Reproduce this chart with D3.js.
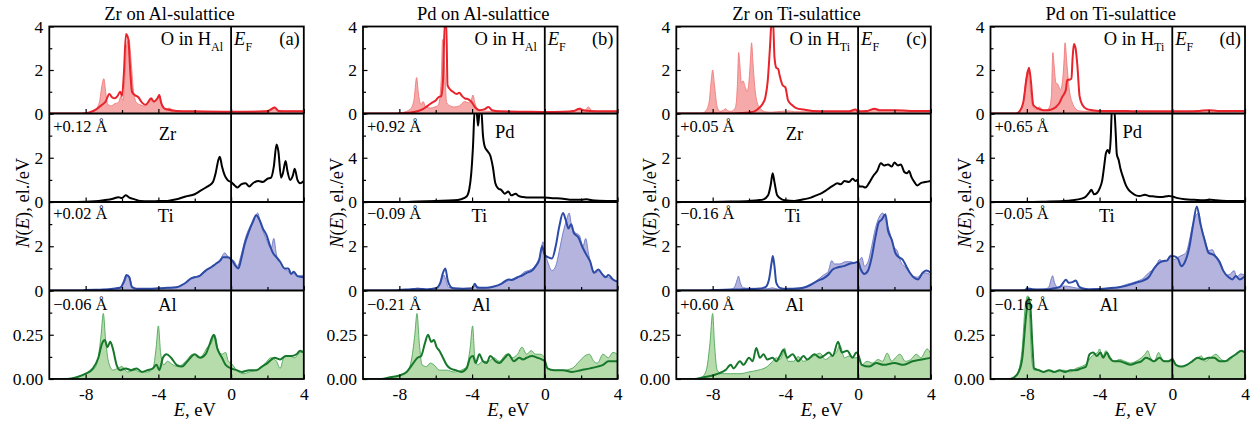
<!DOCTYPE html>
<html><head><meta charset="utf-8">
<script src="https://cdn.jsdelivr.net/npm/d3@7"></script>
<style>body{margin:0;background:#fff}svg{display:block}text{font-family:"Liberation Serif","Times New Roman",serif;fill:#000}</style>
</head><body><svg id="c" width="1257" height="424"></svg>
<script>
// ---------------- DATA (energy eV, DOS el./eV) ----------------
const panelTitles = ["Zr on Al-sulattice","Pd on Al-sulattice","Zr on Ti-sulattice","Pd on Ti-sulattice"];
const panelLetters = ["(a)","(b)","(c)","(d)"];
const oSites = ["Al","Al","Ti","Ti"];
const dopants = ["Zr","Pd","Zr","Pd"];
const shiftsDop = ["+0.12 Å","+0.92 Å","+0.05 Å","+0.65 Å"];
const shiftsTi  = ["+0.02 Å","−0.09 Å","−0.16 Å","−0.05 Å"];
const shiftsAl  = ["−0.06 Å","−0.21 Å","+0.60 Å","−0.16 Å"];
const xTickLabels = [-8,-4,0,4];
const xTicksAll = [-8,-6,-4,-2,0,2,4];
const yLabelsO = [0,2,4], yLabelsZr = [0,2], yLabelsPd = [0,4], yLabelsTi = [0,2], yLabelsAl = [0,0.25];

// Panel (a)
const aO_thin = [[-10,0],[-8.2,0],[-7.8,0.05],[-7.5,0.15],[-7.25,0.5],[-7.1,1.3],[-7.0,1.6],[-6.9,1.0],[-6.8,0.45],[-6.6,0.35],[-6.4,0.45],[-6.2,0.5],[-6.05,0.8],[-5.95,0.6],[-5.85,1.5],[-5.75,3.1],[-5.62,3.4],[-5.5,2.4],[-5.35,0.9],[-5.2,0.5],[-5.0,0.4],[-4.8,0.35],[-4.6,0.45],[-4.45,0.7],[-4.3,0.5],[-4.1,0.6],[-3.95,0.85],[-3.8,0.4],[-3.6,0.2],[-3.4,0.25],[-3.2,0.15],[-2.5,0.1],[-1,0.08],[0,0.08],[1,0.1],[1.8,0.12],[2.2,0.2],[2.4,0.3],[2.6,0.15],[3,0.12],[4,0.12]];
const aO_thick = [[-10,0],[-8.2,0],[-7.8,0.05],[-7.4,0.2],[-7.1,0.4],[-6.9,0.55],[-6.7,0.9],[-6.55,0.75],[-6.4,0.7],[-6.25,0.8],[-6.1,1.0],[-6.0,0.8],[-5.9,1.8],[-5.78,3.65],[-5.65,3.4],[-5.55,2.0],[-5.45,1.0],[-5.3,0.85],[-5.1,0.75],[-4.9,0.5],[-4.7,0.4],[-4.5,0.6],[-4.4,0.7],[-4.25,0.55],[-4.05,0.7],[-3.95,0.85],[-3.85,0.5],[-3.7,0.25],[-3.5,0.18],[-3.0,0.12],[-2,0.1],[0,0.08],[1,0.08],[2,0.1],[2.4,0.28],[2.6,0.12],[3,0.1],[4,0.1]];
const aDop = [[-10,0],[-8.5,0],[-7.5,0.03],[-7,0.08],[-6.5,0.15],[-6.2,0.22],[-6.0,0.18],[-5.8,0.3],[-5.6,0.2],[-5.3,0.12],[-5,0.05],[-4.5,0.03],[-4,0.04],[-3.5,0.05],[-3,0.12],[-2.5,0.25],[-2,0.35],[-1.7,0.5],[-1.4,0.65],[-1.2,0.75],[-1.0,0.9],[-0.85,1.3],[-0.7,1.9],[-0.62,2.05],[-0.5,1.6],[-0.35,1.2],[-0.2,1.0],[0,0.9],[0.2,0.75],[0.35,0.65],[0.55,0.8],[0.8,0.85],[1.0,0.7],[1.2,0.85],[1.5,0.95],[1.75,0.9],[2.0,1.05],[2.2,1.1],[2.35,1.6],[2.5,2.6],[2.6,2.3],[2.75,1.1],[2.85,1.3],[3.0,1.85],[3.1,1.4],[3.25,1.0],[3.4,1.2],[3.5,1.5],[3.65,1.0],[3.8,0.85],[4,0.95]];
const aTi_thin = [[-10,0],[-8.2,0],[-8,0.02],[-7,0.05],[-6.5,0.08],[-6.1,0.15],[-5.85,0.4],[-5.7,0.68],[-5.6,0.65],[-5.45,0.2],[-5.2,0.08],[-4.5,0.08],[-4,0.1],[-3.5,0.12],[-3,0.15],[-2.7,0.25],[-2.4,0.4],[-2.1,0.6],[-1.8,0.65],[-1.5,0.85],[-1.2,1.0],[-0.9,1.15],[-0.6,1.4],[-0.35,1.7],[-0.15,1.5],[0,1.4],[0.15,1.35],[0.35,1.1],[0.55,1.6],[0.8,2.4],[1.1,3.0],[1.35,3.4],[1.47,3.5],[1.6,3.1],[1.8,2.6],[2.0,2.2],[2.2,1.9],[2.35,2.35],[2.5,1.6],[2.7,1.3],[2.9,1.0],[3.1,0.9],[3.3,0.75],[3.5,0.8],[3.7,0.65],[4,0.7]];
const aTi_thick = [[-10,0],[-8.2,0],[-8,0.02],[-7,0.04],[-6.5,0.08],[-6.1,0.12],[-5.9,0.4],[-5.75,0.7],[-5.6,0.6],[-5.45,0.15],[-5.2,0.08],[-4.5,0.08],[-4,0.1],[-3.5,0.12],[-3,0.15],[-2.7,0.25],[-2.5,0.35],[-2.2,0.55],[-2,0.6],[-1.75,0.65],[-1.4,0.9],[-1.1,1.05],[-0.85,1.2],[-0.6,1.35],[-0.45,1.5],[-0.2,1.5],[-0.05,1.45],[0.1,1.3],[0.25,1.1],[0.4,1.0],[0.55,1.4],[0.75,2.1],[0.95,2.6],[1.2,3.1],[1.38,3.4],[1.56,3.2],[1.75,2.8],[1.95,2.5],[2.15,2.0],[2.3,1.7],[2.5,1.5],[2.7,1.3],[2.95,1.0],[3.15,1.0],[3.3,0.75],[3.45,0.85],[3.65,0.65],[4,0.6]];
const aAl_thin = [[-10,0],[-9,0],[-8.5,0.01],[-8,0.03],[-7.6,0.05],[-7.35,0.1],[-7.15,0.25],[-7.03,0.37],[-6.9,0.22],[-6.75,0.1],[-6.5,0.05],[-6.25,0.06],[-6.0,0.07],[-5.7,0.04],[-5.3,0.05],[-5.0,0.04],[-4.6,0.04],[-4.3,0.06],[-4.12,0.18],[-4.0,0.3],[-3.88,0.15],[-3.7,0.08],[-3.5,0.1],[-3.2,0.08],[-2.9,0.07],[-2.5,0.1],[-2.1,0.14],[-1.8,0.12],[-1.6,0.13],[-1.3,0.18],[-1.1,0.2],[-0.9,0.25],[-0.7,0.16],[-0.5,0.14],[-0.3,0.15],[-0.15,0.1],[0,0.09],[0.3,0.05],[0.7,0.03],[1.0,0.04],[1.4,0.05],[1.8,0.08],[2.2,0.12],[2.5,0.1],[2.7,0.06],[2.9,0.12],[3.2,0.13],[3.5,0.12],[3.8,0.15],[4,0.15]];
const aAl_thick = [[-10,0],[-9,0],[-8.5,0.01],[-8,0.03],[-7.6,0.06],[-7.3,0.12],[-7.1,0.2],[-6.95,0.22],[-6.8,0.18],[-6.65,0.21],[-6.5,0.17],[-6.3,0.08],[-6.1,0.05],[-5.8,0.06],[-5.5,0.05],[-5.2,0.06],[-4.9,0.04],[-4.6,0.05],[-4.3,0.06],[-4.1,0.08],[-3.95,0.05],[-3.75,0.12],[-3.55,0.14],[-3.3,0.12],[-3.0,0.08],[-2.7,0.07],[-2.4,0.1],[-2.0,0.14],[-1.7,0.12],[-1.4,0.14],[-1.2,0.19],[-0.95,0.25],[-0.75,0.17],[-0.5,0.12],[-0.3,0.08],[0,0.06],[0.3,0.05],[0.6,0.04],[1.0,0.05],[1.4,0.05],[1.7,0.07],[2.0,0.09],[2.4,0.12],[2.7,0.11],[3.0,0.13],[3.3,0.13],[3.6,0.14],[3.8,0.16],[4,0.15]];

// Panel (b)
const bO_thin = [[-10,0],[-8.2,0],[-7.8,0.05],[-7.4,0.2],[-7.2,0.6],[-7.05,1.65],[-6.95,0.9],[-6.8,0.4],[-6.7,0.55],[-6.55,0.3],[-6.3,0.25],[-6.05,0.3],[-5.85,0.4],[-5.7,1.5],[-5.62,3.4],[-5.5,2.0],[-5.4,0.5],[-5.2,0.35],[-5.0,0.3],[-4.7,0.35],[-4.4,0.55],[-4.2,0.5],[-4.05,0.6],[-3.95,0.85],[-3.85,0.5],[-3.7,0.2],[-3.4,0.12],[-3,0.1],[-1,0.08],[0,0.07],[1,0.08],[1.7,0.12],[1.95,0.25],[2.2,0.15],[2.4,0.3],[2.6,0.12],[3,0.1],[4,0.1]];
const bO_thick = [[-10,0],[-8.2,0],[-7.5,0.03],[-7.0,0.1],[-6.7,0.2],[-6.45,0.35],[-6.2,0.5],[-6.0,0.6],[-5.85,0.75],[-5.7,0.8],[-5.6,1.5],[-5.5,4.2],[-5.42,4.2],[-5.35,1.3],[-5.2,1.1],[-5.05,1.0],[-4.85,0.9],[-4.7,0.95],[-4.55,0.8],[-4.4,0.7],[-4.2,0.65],[-4.0,0.5],[-3.85,0.3],[-3.6,0.15],[-3.3,0.2],[-3.1,0.3],[-2.9,0.15],[-2.5,0.1],[-1,0.08],[0,0.07],[1,0.08],[1.6,0.12],[1.9,0.22],[2.1,0.15],[2.5,0.12],[4,0.1]];
const bDop = [[-10,0],[-8,0],[-7,0.05],[-6,0.1],[-5,0.15],[-4.6,0.25],[-4.3,0.5],[-4.15,1.2],[-4.05,2.5],[-3.95,5.0],[-3.85,8.5],[-3.75,8.2],[-3.67,6.9],[-3.6,8.0],[-3.5,8.5],[-3.4,6.0],[-3.3,5.0],[-3.15,4.6],[-3.0,4.2],[-2.85,3.1],[-2.72,1.7],[-2.55,1.2],[-2.4,1.1],[-2.2,0.75],[-2.0,0.95],[-1.85,0.6],[-1.6,0.75],[-1.45,0.55],[-1.2,0.45],[-0.8,0.4],[-0.3,0.4],[0,0.4],[0.5,0.35],[1,0.3],[1.5,0.2],[2,0.2],[2.3,0.25],[2.6,0.15],[3,0.12],[4,0.1]];
const bTi_thin = [[-10,0],[-8.2,0],[-8,0.02],[-7.5,0.05],[-7,0.1],[-6.5,0.06],[-6,0.1],[-5.75,0.3],[-5.55,0.7],[-5.45,0.5],[-5.3,0.15],[-5,0.1],[-4.5,0.08],[-4,0.12],[-3.8,0.2],[-3.5,0.12],[-3,0.15],[-2.5,0.25],[-2,0.45],[-1.7,0.55],[-1.4,0.65],[-1.1,0.85],[-0.9,0.9],[-0.6,1.05],[-0.4,1.3],[-0.25,1.6],[-0.1,2.2],[0.05,1.6],[0.2,1.2],[0.4,0.9],[0.6,1.1],[0.8,1.8],[1.0,2.6],[1.2,3.2],[1.34,3.5],[1.5,2.8],[1.7,2.6],[1.9,2.5],[2.1,2.0],[2.25,2.35],[2.4,1.7],[2.6,1.0],[2.8,0.8],[3.0,0.9],[3.2,0.7],[3.5,0.6],[3.7,0.5],[4,0.4]];
const bTi_thick = [[-10,0],[-8.2,0],[-8,0.02],[-7.5,0.05],[-7,0.08],[-6.5,0.05],[-6,0.1],[-5.75,0.35],[-5.6,0.8],[-5.47,1.0],[-5.35,0.5],[-5.15,0.15],[-5,0.1],[-4.5,0.08],[-4,0.1],[-3.85,0.3],[-3.7,0.12],[-3.2,0.12],[-2.8,0.18],[-2.4,0.3],[-2,0.5],[-1.8,0.48],[-1.5,0.6],[-1.2,0.7],[-1.0,0.8],[-0.7,0.9],[-0.5,1.1],[-0.3,1.4],[-0.15,2.0],[0,1.6],[0.2,1.5],[0.4,1.45],[0.6,2.0],[0.8,2.9],[1.0,3.5],[1.15,3.2],[1.3,2.8],[1.45,3.0],[1.6,2.6],[1.85,2.4],[2.05,2.0],[2.3,1.6],[2.5,1.3],[2.7,0.8],[2.95,0.95],[3.15,0.75],[3.35,0.6],[3.5,0.7],[3.75,0.5],[4,0.4]];
const bAl_thin = [[-10,0],[-9,0],[-8.5,0.01],[-8,0.02],[-7.6,0.04],[-7.35,0.1],[-7.15,0.25],[-7.03,0.37],[-6.9,0.2],[-6.75,0.08],[-6.5,0.07],[-6.3,0.09],[-6.1,0.08],[-5.8,0.05],[-5.4,0.05],[-5.0,0.04],[-4.6,0.05],[-4.3,0.07],[-4.1,0.18],[-3.97,0.3],[-3.85,0.12],[-3.7,0.08],[-3.4,0.1],[-3.1,0.1],[-2.8,0.12],[-2.5,0.1],[-2.1,0.14],[-1.8,0.12],[-1.5,0.14],[-1.25,0.18],[-1.0,0.14],[-0.75,0.16],[-0.5,0.14],[-0.25,0.14],[0,0.12],[0.15,0.06],[0.5,0.05],[1.0,0.05],[1.5,0.06],[1.9,0.1],[2.2,0.13],[2.45,0.14],[2.7,0.1],[2.9,0.09],[3.2,0.14],[3.5,0.12],[3.75,0.15],[4,0.14]];
const bAl_thick = [[-10,0],[-9,0],[-8.5,0.01],[-8,0.02],[-7.6,0.04],[-7.3,0.08],[-7.0,0.12],[-6.8,0.13],[-6.6,0.2],[-6.42,0.25],[-6.25,0.21],[-6.1,0.22],[-5.95,0.18],[-5.8,0.16],[-5.6,0.12],[-5.4,0.08],[-5.2,0.06],[-4.9,0.05],[-4.6,0.04],[-4.3,0.06],[-4.1,0.12],[-3.95,0.13],[-3.8,0.09],[-3.6,0.14],[-3.4,0.1],[-3.2,0.09],[-3.0,0.13],[-2.7,0.1],[-2.5,0.09],[-2.2,0.12],[-2.0,0.14],[-1.7,0.1],[-1.4,0.12],[-1.2,0.11],[-1.0,0.12],[-0.7,0.13],[-0.4,0.12],[-0.15,0.11],[0,0.1],[0.15,0.06],[0.5,0.05],[1.0,0.05],[1.5,0.04],[2.0,0.05],[2.5,0.06],[2.9,0.07],[3.2,0.08],[3.5,0.1],[3.8,0.1],[4,0.1]];

// Panel (c)
const cO_thin = [[-10,0],[-8.6,0],[-8.4,0.1],[-8.2,0.5],[-8.08,1.5],[-8.0,2.0],[-7.9,1.3],[-7.75,0.3],[-7.6,0.1],[-7.4,0.15],[-7.3,0.22],[-7.15,0.12],[-7.0,0.1],[-6.8,0.2],[-6.7,0.5],[-6.63,1.5],[-6.57,2.8],[-6.5,2.2],[-6.42,1.4],[-6.33,1.5],[-6.2,1.2],[-6.1,1.0],[-6.0,1.5],[-5.92,2.5],[-5.86,3.25],[-5.78,2.3],[-5.68,1.2],[-5.55,0.5],[-5.35,0.2],[-5.1,0.08],[-4.8,0.06],[-4.5,0.08],[-4.2,0.1],[-3.8,0.12],[-3.5,0.08],[-2,0.08],[-0.3,0.1],[0,0.1],[0.5,0.12],[0.9,0.2],[1.1,0.15],[1.5,0.15],[2,0.15],[2.5,0.13],[3,0.1],[4,0.1]];
const cO_thick = [[-10,0],[-7,0],[-6.5,0.02],[-6.0,0.05],[-5.7,0.1],[-5.45,0.25],[-5.25,0.45],[-5.1,0.75],[-4.97,1.5],[-4.85,3.0],[-4.75,4.3],[-4.68,4.3],[-4.6,2.6],[-4.5,2.1],[-4.4,2.05],[-4.3,1.7],[-4.15,1.3],[-4.0,1.2],[-3.85,0.6],[-3.65,0.4],[-3.4,0.25],[-3.0,0.18],[-2.5,0.12],[-1.5,0.1],[-0.5,0.1],[-0.15,0.18],[0,0.1],[0.5,0.12],[0.9,0.22],[1.2,0.15],[2,0.15],[2.5,0.14],[3,0.12],[4,0.12]];
const cDop = [[-10,0],[-8.5,0],[-7.5,0.01],[-7,0.02],[-6,0.05],[-5.5,0.08],[-5.2,0.12],[-4.95,0.3],[-4.8,0.8],[-4.7,1.3],[-4.6,0.9],[-4.45,0.3],[-4.2,0.12],[-4.0,0.08],[-3.5,0.05],[-3.0,0.12],[-2.6,0.2],[-2.3,0.3],[-2.0,0.4],[-1.8,0.5],[-1.55,0.65],[-1.35,0.75],[-1.15,0.85],[-0.95,0.8],[-0.75,0.95],[-0.5,0.9],[-0.3,1.05],[-0.15,0.95],[-0.05,1.0],[0.05,0.7],[0.25,0.7],[0.4,0.65],[0.6,0.85],[0.85,1.2],[1.05,1.4],[1.25,1.75],[1.45,1.65],[1.65,1.7],[1.85,1.6],[2.0,1.78],[2.2,1.65],[2.35,1.7],[2.55,1.35],[2.7,1.3],[2.8,1.4],[2.95,1.1],[3.1,0.9],[3.25,0.75],[3.45,0.85],[3.7,0.9],[4,0.95]];
const cTi_thin = [[-10,0],[-8.2,0],[-8,0.02],[-7.5,0.03],[-7,0.05],[-6.8,0.15],[-6.65,0.5],[-6.58,0.65],[-6.48,0.35],[-6.3,0.12],[-6.0,0.1],[-5.5,0.1],[-5.0,0.08],[-4.7,0.12],[-4.4,0.06],[-4.0,0.06],[-3.5,0.1],[-3.0,0.15],[-2.6,0.3],[-2.2,0.5],[-1.9,0.7],[-1.65,0.85],[-1.45,1.35],[-1.3,1.2],[-1.0,1.2],[-0.7,1.3],[-0.4,1.3],[-0.15,1.25],[0.05,1.35],[0.2,1.5],[0.35,1.1],[0.55,1.3],[0.75,2.0],[0.95,2.8],[1.15,3.3],[1.35,3.5],[1.55,3.1],[1.75,2.6],[1.95,2.0],[2.15,1.8],[2.35,1.3],[2.55,1.1],[2.75,0.9],[3.0,0.65],[3.25,0.6],[3.5,0.75],[3.7,0.8],[4,0.7]];
const cTi_thick = [[-10,0],[-8.2,0],[-8,0.02],[-7,0.04],[-6.5,0.05],[-6,0.06],[-5.5,0.08],[-5.1,0.15],[-4.9,0.5],[-4.75,1.3],[-4.69,1.56],[-4.6,1.1],[-4.5,0.35],[-4.3,0.12],[-4.0,0.08],[-3.5,0.08],[-3.0,0.12],[-2.6,0.25],[-2.2,0.45],[-1.9,0.55],[-1.65,0.7],[-1.4,0.95],[-1.1,1.05],[-0.8,1.1],[-0.5,1.2],[-0.2,1.25],[0,1.3],[0.15,0.95],[0.35,0.75],[0.55,0.9],[0.75,1.5],[0.95,2.4],[1.15,3.1],[1.3,3.2],[1.5,3.45],[1.65,2.7],[1.85,2.3],[2.05,1.7],[2.25,1.5],[2.45,1.4],[2.65,1.1],[2.85,0.8],[3.05,0.6],[3.3,0.5],[3.55,0.8],[3.75,0.9],[4,0.8]];
const cAl_thin = [[-10,0],[-9,0],[-8.6,0.01],[-8.35,0.05],[-8.15,0.2],[-8.0,0.37],[-7.9,0.2],[-7.75,0.05],[-7.5,0.03],[-7.0,0.03],[-6.5,0.03],[-6.0,0.04],[-5.5,0.05],[-5.0,0.07],[-4.7,0.1],[-4.5,0.12],[-4.3,0.11],[-4.15,0.14],[-4.05,0.175],[-3.85,0.1],[-3.55,0.1],[-3.3,0.127],[-3.0,0.1],[-2.6,0.12],[-2.1,0.146],[-1.8,0.11],[-1.5,0.13],[-1.2,0.15],[-1.0,0.19],[-0.75,0.12],[-0.5,0.13],[-0.2,0.12],[0,0.12],[0.2,0.08],[0.5,0.1],[0.8,0.09],[1.1,0.11],[1.35,0.1],[1.6,0.146],[1.85,0.1],[2.05,0.12],[2.3,0.14],[2.6,0.1],[2.9,0.11],[3.2,0.14],[3.45,0.12],[3.8,0.17],[4,0.14]];
const cAl_thick = [[-10,0],[-9,0],[-8.5,0.01],[-8.0,0.02],[-7.7,0.03],[-7.3,0.05],[-7.0,0.08],[-6.85,0.06],[-6.5,0.1],[-6.3,0.08],[-6.0,0.12],[-5.8,0.1],[-5.6,0.175],[-5.4,0.12],[-5.2,0.14],[-5.0,0.11],[-4.7,0.12],[-4.5,0.1],[-4.3,0.13],[-4.1,0.165],[-3.9,0.12],[-3.6,0.14],[-3.3,0.1],[-3.0,0.13],[-2.8,0.11],[-2.4,0.14],[-2.1,0.12],[-1.9,0.13],[-1.6,0.15],[-1.4,0.13],[-1.1,0.21],[-0.9,0.15],[-0.6,0.16],[-0.3,0.12],[-0.1,0.15],[0,0.14],[0.2,0.08],[0.6,0.07],[1.0,0.09],[1.4,0.08],[2.0,0.09],[2.5,0.08],[3.0,0.1],[3.5,0.11],[4,0.12]];

// Panel (d)
const dO_thin = [[-10,0],[-8.6,0],[-8.4,0.1],[-8.2,0.5],[-8.05,1.6],[-7.95,2.0],[-7.85,1.4],[-7.7,0.4],[-7.5,0.2],[-7.3,0.3],[-7.15,0.15],[-6.95,0.15],[-6.75,0.3],[-6.65,0.8],[-6.57,2.8],[-6.5,2.2],[-6.4,1.4],[-6.3,1.35],[-6.15,1.1],[-6.05,1.4],[-5.95,2.5],[-5.9,3.25],[-5.8,2.3],[-5.65,1.0],[-5.5,0.5],[-5.35,0.25],[-5.1,0.12],[-4.8,0.1],[-4.5,0.1],[-3.5,0.08],[-2,0.08],[0,0.08],[1,0.1],[1.5,0.12],[2,0.15],[2.5,0.12],[3,0.1],[4,0.1]];
const dO_thick = [[-10,0],[-8.6,0],[-8.4,0.1],[-8.2,0.5],[-8.0,1.7],[-7.88,2.1],[-7.78,1.5],[-7.65,0.4],[-7.45,0.25],[-7.3,0.2],[-7.1,0.15],[-6.85,0.15],[-6.6,0.2],[-6.4,0.3],[-6.2,0.5],[-6.05,0.77],[-5.95,0.9],[-5.85,1.1],[-5.78,1.55],[-5.65,1.55],[-5.55,1.6],[-5.48,2.6],[-5.41,3.2],[-5.32,3.0],[-5.22,2.2],[-5.1,0.8],[-4.95,0.4],[-4.7,0.2],[-4.4,0.15],[-4.0,0.12],[-3.0,0.12],[-2,0.1],[0,0.1],[1,0.1],[1.5,0.12],[2,0.15],[2.5,0.12],[3,0.12],[4,0.12]];
const dDop = [[-10,0],[-8,0],[-7,0.03],[-6,0.08],[-5.5,0.15],[-5.0,0.3],[-4.75,0.5],[-4.55,0.9],[-4.45,1.1],[-4.3,0.7],[-4.15,0.8],[-4.0,1.2],[-3.85,2.0],[-3.75,3.2],[-3.65,4.4],[-3.55,4.7],[-3.45,4.4],[-3.38,6.0],[-3.32,8.5],[-3.2,8.5],[-3.12,6.5],[-3.05,4.3],[-2.95,3.8],[-2.85,3.0],[-2.7,2.2],[-2.55,1.5],[-2.4,1.1],[-2.2,0.8],[-2.0,0.6],[-1.8,0.55],[-1.5,0.65],[-1.3,0.55],[-1.0,0.5],[-0.6,0.45],[-0.2,0.55],[0,0.5],[0.3,0.35],[0.7,0.25],[1.2,0.2],[1.7,0.15],[2.1,0.2],[2.4,0.15],[3,0.1],[4,0.1]];
const dTi_thin = [[-10,0],[-8.3,0],[-8.1,0.05],[-7.5,0.05],[-7.0,0.07],[-6.8,0.15],[-6.65,0.55],[-6.58,0.67],[-6.48,0.35],[-6.3,0.15],[-6.1,0.2],[-5.9,0.2],[-5.5,0.15],[-5.0,0.08],[-4.5,0.07],[-4.0,0.08],[-3.5,0.1],[-3.0,0.15],[-2.5,0.28],[-2.0,0.4],[-1.6,0.55],[-1.3,0.8],[-1.0,1.0],[-0.85,1.2],[-0.7,1.4],[-0.5,1.3],[-0.3,1.35],[-0.1,1.6],[0.1,1.4],[0.3,1.5],[0.55,1.6],[0.75,1.7],[0.95,2.3],[1.1,2.9],[1.3,3.4],[1.45,3.5],[1.6,2.9],[1.8,2.3],[2.0,1.8],[2.2,1.85],[2.4,1.5],[2.6,1.2],[2.8,0.9],[3.0,0.7],[3.2,0.75],[3.4,0.9],[3.55,0.6],[3.75,0.75],[4,0.7]];
const dTi_thick = [[-10,0],[-8.1,0],[-8.0,0.1],[-7.7,0.06],[-7.2,0.05],[-6.8,0.06],[-6.5,0.1],[-6.2,0.15],[-6.0,0.35],[-5.85,0.49],[-5.7,0.35],[-5.5,0.38],[-5.3,0.45],[-5.15,0.2],[-4.95,0.1],[-4.6,0.05],[-4.0,0.07],[-3.5,0.1],[-3.0,0.14],[-2.5,0.22],[-2.0,0.35],[-1.6,0.45],[-1.3,0.6],[-1.0,1.0],[-0.8,1.2],[-0.5,1.33],[-0.3,1.35],[-0.1,1.55],[0.1,1.55],[0.3,1.45],[0.5,1.1],[0.7,1.3],[0.95,2.0],[1.15,3.0],[1.35,3.8],[1.55,3.0],[1.8,2.2],[2.0,1.7],[2.3,1.6],[2.6,1.3],[2.8,0.9],[3.1,0.6],[3.3,0.5],[3.5,0.65],[3.7,0.5],[4,0.65]];
const dAl_thin = [[-10,0],[-9,0],[-8.7,0.01],[-8.45,0.05],[-8.25,0.18],[-8.1,0.4],[-7.95,0.47],[-7.85,0.35],[-7.72,0.1],[-7.6,0.05],[-7.3,0.05],[-7.0,0.04],[-6.7,0.05],[-6.4,0.04],[-6.0,0.05],[-5.6,0.04],[-5.3,0.06],[-5.0,0.07],[-4.7,0.09],[-4.5,0.12],[-4.3,0.14],[-4.1,0.15],[-4.0,0.17],[-3.85,0.12],[-3.65,0.16],[-3.45,0.13],[-3.2,0.1],[-2.9,0.11],[-2.6,0.1],[-2.3,0.09],[-2.0,0.1],[-1.7,0.12],[-1.5,0.14],[-1.35,0.16],[-1.2,0.12],[-1.0,0.1],[-0.75,0.15],[-0.55,0.11],[-0.3,0.1],[-0.1,0.11],[0,0.12],[0.2,0.08],[0.5,0.07],[0.8,0.08],[1.1,0.1],[1.4,0.12],[1.6,0.13],[1.8,0.1],[2.1,0.12],[2.4,0.14],[2.7,0.11],[3.0,0.1],[3.3,0.12],[3.6,0.15],[3.85,0.16],[4,0.15]];
const dAl_thick = [[-10,0],[-9,0],[-8.7,0.01],[-8.45,0.04],[-8.25,0.12],[-8.05,0.35],[-7.9,0.46],[-7.8,0.4],[-7.7,0.2],[-7.6,0.06],[-7.35,0.05],[-7.1,0.04],[-6.8,0.05],[-6.5,0.04],[-6.2,0.05],[-5.9,0.04],[-5.6,0.05],[-5.3,0.05],[-5.0,0.06],[-4.75,0.07],[-4.55,0.14],[-4.35,0.15],[-4.15,0.13],[-3.95,0.15],[-3.8,0.12],[-3.6,0.15],[-3.45,0.12],[-3.2,0.1],[-2.9,0.1],[-2.6,0.09],[-2.3,0.08],[-2.0,0.09],[-1.7,0.1],[-1.45,0.12],[-1.2,0.11],[-1.0,0.1],[-0.7,0.12],[-0.45,0.1],[-0.2,0.1],[0,0.11],[0.2,0.08],[0.5,0.07],[0.8,0.08],[1.1,0.1],[1.4,0.12],[1.7,0.11],[2.0,0.12],[2.3,0.12],[2.6,0.1],[2.9,0.1],[3.2,0.12],[3.5,0.14],[3.8,0.16],[4,0.15]];

// ---------------- LAYOUT ----------------
const panelLeft = [49.3, 363, 676.3, 990.5];
const plotW = 254.5;
const rowEdges = [26.5, 113.5, 202, 290.5, 379];
const FONT = '"Liberation Serif","Times New Roman",serif';

const C = {
  red:   {line:"#e8232b", fill:"#f6a9a9", thin:"#f07a7a"},
  black: {line:"#000"},
  blue:  {line:"#2d4aa7", fill:"#b4b4de", thin:"#6b77c4"},
  green: {line:"#17782c", fill:"#b6dcab", thin:"#4ea65a"}
};

const panelSeries = [
  {O:[aO_thin,aO_thick], D:aDop, Ti:[aTi_thin,aTi_thick], Al:[aAl_thin,aAl_thick]},
  {O:[bO_thin,bO_thick], D:bDop, Ti:[bTi_thin,bTi_thick], Al:[bAl_thin,bAl_thick]},
  {O:[cO_thin,cO_thick], D:cDop, Ti:[cTi_thin,cTi_thick], Al:[cAl_thin,cAl_thick]},
  {O:[dO_thin,dO_thick], D:dDop, Ti:[dTi_thin,dTi_thick], Al:[dAl_thin,dAl_thick]}
];

const svg = d3.select("#c");
const defs = svg.append("defs");

panelSeries.forEach((S, p) => {
  const L = panelLeft[p], R = L + plotW;
  const x = d3.scaleLinear().domain([-10, 4]).range([L, R]);
  const g = svg.append("g");
  const isPd = dopants[p] === "Pd";

  const rows = [
    {dom:[0,4], ticks:[0,1,2,3,4], labels:yLabelsO, col:C.red, thin:S.O[0], thick:S.O[1], fmt:d=>String(d)},
    {dom:[0,isPd?8:4], ticks:isPd?[0,2,4,6,8]:[0,1,2,3,4], labels:isPd?yLabelsPd:yLabelsZr, col:C.black, thin:null, thick:S.D, fmt:d=>String(d)},
    {dom:[0,4], ticks:[0,1,2,3,4], labels:yLabelsTi, col:C.blue, thin:S.Ti[0], thick:S.Ti[1], fmt:d=>String(d)},
    {dom:[0,0.5], ticks:[0,0.125,0.25,0.375,0.5], labels:yLabelsAl, col:C.green, thin:S.Al[0], thick:S.Al[1], fmt:d=>d3.format(".2f")(d)}
  ];

  rows.forEach((r, i) => {
    const top = rowEdges[i], bot = rowEdges[i+1];
    const y = d3.scaleLinear().domain(r.dom).range([bot, top]);
    const cid = `clip${p}_${i}`;
    defs.append("clipPath").attr("id", cid).append("rect")
      .attr("x", L).attr("y", top).attr("width", plotW).attr("height", bot - top);
    const cg = g.append("g").attr("clip-path", `url(#${cid})`);
    const area = d3.area().x(d => x(d[0])).y0(y(0)).y1(d => y(d[1])).curve(d3.curveMonotoneX);
    const line = d3.line().x(d => x(d[0])).y(d => y(d[1])).curve(d3.curveMonotoneX);
    if (r.thin) {
      cg.append("path").datum(r.thin).attr("d", area).attr("fill", r.col.fill).attr("stroke", "none");
      cg.append("path").datum(r.thin).attr("d", line).attr("fill", "none")
        .attr("stroke", r.col.thin).attr("stroke-width", 0.9);
    }
    cg.append("path").datum(r.thick).attr("d", line).attr("fill", "none")
      .attr("stroke", r.col.line).attr("stroke-width", 2).attr("stroke-linejoin", "round");

    // y axis (inward ticks)
    const ya = g.append("g").attr("transform", `translate(${L},0)`)
      .call(d3.axisLeft(y).tickValues(r.ticks).tickSize(-4).tickPadding(6)
        .tickFormat(d => r.labels.includes(d) && !(i > 0 && d === r.dom[1]) ? r.fmt(d) : ""));
    ya.select(".domain").remove();
    ya.selectAll(".tick line").attr("stroke", "#000").attr("stroke-width", 1.2)
      .attr("x2", d => r.labels.includes(d) ? 4.5 : 3);
    ya.selectAll(".tick text").attr("font-family", FONT).attr("font-size", 17.5).attr("fill", "#000");

    // x axis (inward ticks at row bottom)
    const xa = g.append("g").attr("transform", `translate(0,${bot})`)
      .call(d3.axisBottom(x).tickValues(xTicksAll).tickSize(-4.5).tickPadding(9)
        .tickFormat(d => (i === 3 && xTickLabels.includes(d)) ? (d < 0 ? "-" + Math.abs(d) : String(d)) : ""));
    xa.select(".domain").remove();
    xa.selectAll(".tick line").attr("stroke", "#000").attr("stroke-width", 1.2)
      .attr("y2", d => xTickLabels.includes(d) ? -4.5 : -3.5);
    xa.selectAll(".tick text").attr("font-family", FONT).attr("font-size", 17.5).attr("fill", "#000");
  });

  // frame, row separators, Fermi level line
  const fr = g.append("g").attr("stroke", "#000").attr("stroke-width", 1.8).attr("fill", "none");
  fr.append("rect").attr("x", L).attr("y", rowEdges[0]).attr("width", plotW).attr("height", rowEdges[4] - rowEdges[0]);
  rowEdges.slice(1, 4).forEach(e => fr.append("line").attr("x1", L).attr("x2", R).attr("y1", e).attr("y2", e));
  fr.append("line").attr("x1", x(0)).attr("x2", x(0)).attr("y1", rowEdges[0]).attr("y2", rowEdges[4]);

  const txt = g.append("g").attr("font-family", FONT).attr("fill", "#000");
  // title
  txt.append("text").attr("x", (L + R) / 2 - 7).attr("y", 20).attr("text-anchor", "middle")
    .attr("font-size", 18.5).text(panelTitles[p]);
  // row 1 labels
  const t1 = txt.append("text").attr("x", x(0) - 8).attr("y", rowEdges[0] + 18).attr("text-anchor", "end").attr("font-size", 18.5);
  t1.append("tspan").text("O in H");
  t1.append("tspan").attr("dy", 6).attr("font-size", 12).text(oSites[p]);
  const ef = txt.append("text").attr("x", x(0) + 3).attr("y", rowEdges[0] + 18).attr("font-size", 18.5);
  ef.append("tspan").attr("font-style", "italic").text("E");
  ef.append("tspan").attr("dy", 6).attr("font-size", 12).text("F");
  txt.append("text").attr("x", R - 4).attr("y", rowEdges[0] + 18).attr("text-anchor", "end")
    .attr("font-size", 18.5).text(panelLetters[p]);
  // rows 2..4 labels
  const sh = [shiftsDop[p], shiftsTi[p], shiftsAl[p]];
  const el = [dopants[p], "Ti", "Al"];
  const elE = [isPd ? -2.2 : -3.5, -3.6, -3.5];
  const shOff = [18, 16.5, 19];
  const elOff = [isPd ? 24.5 : 26.5, 19.5, 20];
  [1, 2, 3].forEach((ri, k) => {
    txt.append("text").attr("x", L + 4).attr("y", rowEdges[ri] + shOff[k]).attr("font-size", 16.5).text(sh[k]);
    txt.append("text").attr("x", x(elE[k])).attr("y", rowEdges[ri] + elOff[k]).attr("text-anchor", "middle")
      .attr("font-size", 18.5).text(el[k]);
  });
  // axis titles
  const yl = txt.append("text").attr("transform", `translate(${L - 20},${(rowEdges[0] + rowEdges[4]) / 2}) rotate(-90)`)
    .attr("text-anchor", "middle").attr("font-size", 18.5);
  yl.append("tspan").attr("font-style", "italic").text("N");
  yl.append("tspan").text("(");
  yl.append("tspan").attr("font-style", "italic").text("E");
  yl.append("tspan").text("), el./eV");
  const xl = txt.append("text").attr("x", x(-2)).attr("y", 416).attr("text-anchor", "middle").attr("font-size", 18.5);
  xl.append("tspan").attr("font-style", "italic").text("E");
  xl.append("tspan").text(", eV");
});
</script>
</body></html>
